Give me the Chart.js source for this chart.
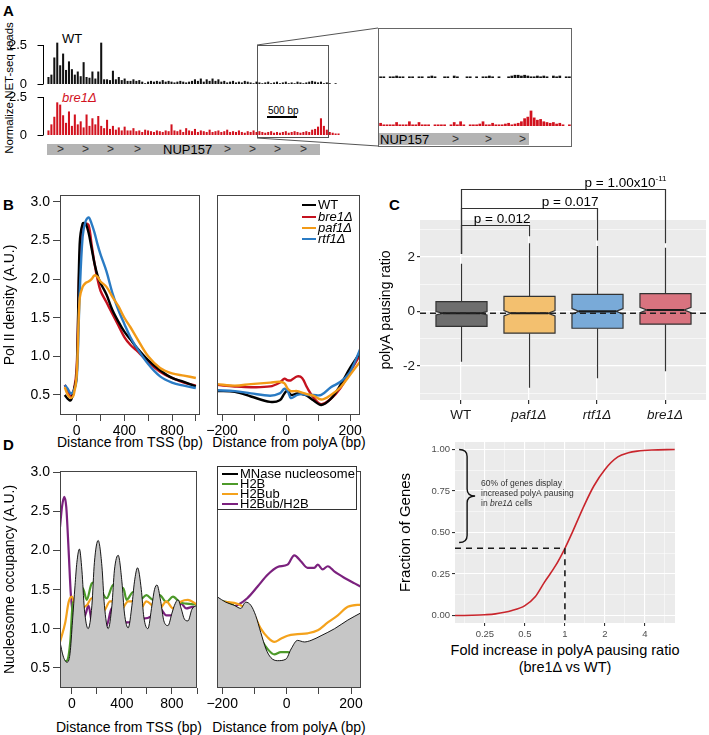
<!DOCTYPE html>
<html>
<head>
<meta charset="utf-8">
<script src="https://cdn.jsdelivr.net/npm/chart.js@4.4.0/dist/chart.umd.min.js"></script>
<style>
  body { margin: 0; background: #fff; font-family: "Liberation Sans", Arial, sans-serif; }
  #fig { position: relative; width: 709px; height: 735px; overflow: hidden; }
  canvas { position: absolute; }
  .t { position: absolute; white-space: nowrap; line-height: 1; color: #000; }
  .pl { font-weight: bold; font-size: 15px; }
  .rot { transform: translate(-50%, -50%) rotate(-90deg); }
  .ctr { transform: translate(-50%, -50%); }
  .gene { position: absolute; background: #b4b4b4; }
  .chev { position: absolute; font-size: 12px; color: #333; line-height: 1; }
  .leg { position: absolute; z-index: 5; font-size: 13px; line-height: 13px; white-space: nowrap; }
  .leg i.sw { display: inline-block; width: 14px; height: 2px; vertical-align: middle; margin-right: 2px; position: relative; top: -1px; }
  .em { font-style: italic; }
</style>
</head>
<body>
<div id="fig">
  <!-- panel letters -->
  <div class="t pl" style="left:3px;top:3px">A</div>
  <div class="t pl" style="left:3px;top:197px">B</div>
  <div class="t pl" style="left:389px;top:197px">C</div>
  <div class="t pl" style="left:3px;top:437px">D</div>

  <!-- panel A annotations -->
  <div class="t rot" style="left:10px;top:88px;font-size:11.5px">Normalize NET-seq reads</div>
  <div class="t" style="left:62px;top:32px;font-size:13px">WT</div>
  <div class="t em" style="left:62px;top:91px;font-size:13px;color:#d2121e">bre1Δ</div>
  <div class="t" style="left:268px;top:106px;font-size:10px">500 bp</div>
  <div style="position:absolute;left:267px;top:116px;width:30px;height:1.5px;background:#000"></div>

  <div class="gene" style="left:47px;top:144px;width:273px;height:11px"></div>
  <div class="chev" style="left:57px;top:143px">&gt;</div>
  <div class="chev" style="left:82px;top:143px">&gt;</div>
  <div class="chev" style="left:107px;top:143px">&gt;</div>
  <div class="chev" style="left:134px;top:143px">&gt;</div>
  <div class="t" style="left:163px;top:143px;font-size:13px">NUP157</div>
  <div class="chev" style="left:224px;top:143px">&gt;</div>
  <div class="chev" style="left:249px;top:143px">&gt;</div>
  <div class="chev" style="left:274px;top:143px">&gt;</div>
  <div class="chev" style="left:300px;top:143px">&gt;</div>

  <div style="position:absolute;left:257px;top:45px;width:72px;height:93px;border:1px solid #555;box-sizing:border-box"></div>
  <div style="position:absolute;left:378px;top:28px;width:194px;height:119px;border:1px solid #666;box-sizing:border-box"></div>
  <div class="gene" style="left:379px;top:133px;width:150px;height:12px"></div>
  <div class="t" style="left:380px;top:133px;font-size:13px">NUP157</div>
  <div class="chev" style="left:452px;top:133px">&gt;</div>
  <div class="chev" style="left:485px;top:133px">&gt;</div>
  <div class="chev" style="left:519px;top:133px">&gt;</div>
  <svg style="position:absolute;left:0;top:0" width="709" height="735">
    <line x1="257" y1="45" x2="378" y2="28" stroke="#555" stroke-width="1"/>
    <line x1="257" y1="138" x2="378" y2="146" stroke="#555" stroke-width="1"/>
  </svg>

  <!-- axis titles of the profile panels -->
  <div class="t ctr" style="left:130px;top:442px;font-size:14px">Distance from TSS (bp)</div>
  <div class="t ctr" style="left:289px;top:442px;font-size:14px">Distance from polyA (bp)</div>
  <div class="t ctr" style="left:129px;top:727px;font-size:14px">Distance from TSS (bp)</div>
  <div class="t ctr" style="left:289px;top:727px;font-size:14px">Distance from polyA (bp)</div>
  <div class="t ctr" style="left:565px;top:650px;font-size:14.5px">Fold increase in polyA pausing ratio</div>
  <div class="t ctr" style="left:565px;top:667px;font-size:14.5px">(bre1Δ vs WT)</div>

  <!-- panel B legend -->
  <div class="leg" style="left:302px;top:198px"><i class="sw" style="background:#000"></i>WT</div>
  <div class="leg em" style="left:302px;top:210px"><i class="sw" style="background:#c4121f"></i>bre1Δ</div>
  <div class="leg em" style="left:302px;top:221px"><i class="sw" style="background:#f29a17"></i>paf1Δ</div>
  <div class="leg em" style="left:302px;top:232px"><i class="sw" style="background:#2a7bc4"></i>rtf1Δ</div>

  <!-- panel D legend -->
  <div style="position:absolute;z-index:5;left:217px;top:466px;width:140px;height:44px;border:1px solid #333;box-sizing:border-box;background:#fff"></div>
  <div class="leg" style="left:222px;top:468px;line-height:11px"><i class="sw" style="background:#000;width:16px"></i>MNase nucleosome</div>
  <div class="leg" style="left:222px;top:478px;line-height:11px"><i class="sw" style="background:#4d9a2a;width:16px"></i>H2B</div>
  <div class="leg" style="left:222px;top:488px;line-height:11px"><i class="sw" style="background:#f4a21c;width:16px"></i>H2Bub</div>
  <div class="leg" style="left:222px;top:498px;line-height:11px"><i class="sw" style="background:#7b217e;width:16px"></i>H2Bub/H2B</div>
</div>

<script>
// ---------- panel A: binned NET-seq reads along NUP157 ----------
const trackTicks = [0, 2.5];
const wtReads = [0.45,0.6,1.7,2.65,1.2,1.95,0.9,1.45,0.95,0.6,
  0.8,0.5,1.4,0.45,0.4,0.8,0.35,0.8,2.65,0.3,
  0.3,0.25,0.85,0.3,0.45,0.25,0.35,0.2,0.2,0.3,
  0.2,0.25,0.15,0.05,0.15,0.2,0.15,0.2,0.15,0.25,
  0.15,0.2,0.15,0.1,0.15,0.2,0.15,0.1,0.15,0.2,
  0.3,0.2,0.35,0.15,0.3,0.2,0.35,0.2,0.3,0.15,
  0.2,0.1,0.15,0.2,0.1,0.15,0.1,0.2,0.15,0.1,
  0.05,0.15,0.1,0.05,0.1,0.15,0.05,0.1,0.15,0.05,
  0.1,0.15,0.05,0.1,0.05,0.15,0.1,0.05,0.1,0.15,
  0.2,0.15,0.1,0.15,0.05,0.1,0.05,0,0.05,0];
const bre1Reads = [0.3,0.7,1.2,2.15,2.0,1.3,0.8,1.55,0.6,1.35,
  0.7,0.9,0.5,1.35,0.6,1.1,0.7,1.25,0.6,0.45,
  1.0,0.4,0.6,0.35,0.5,0.3,0.55,0.3,0.3,0.45,
  0.25,0.3,0.2,0.35,0.3,0.25,0.2,0.3,0.25,0.2,
  0.3,0.25,0.7,0.3,0.25,0.35,0.2,0.45,0.3,0.25,
  0.4,0.2,0.3,0.25,0.2,0.35,0.2,0.25,0.3,0.2,
  0.25,0.35,0.2,0.25,0.2,0.3,0.2,0.15,0.25,0.2,
  0.3,0.2,0.25,0.2,0.15,0.2,0.25,0.15,0.2,0.15,
  0.2,0.25,0.15,0.2,0.25,0.2,0.15,0.2,0.25,0.2,
  0.35,0.4,0.55,1.1,0.6,0.35,0.2,0.15,0.1,0.1];
const wtZoomReads = [0.1,0.1,0,0.1,0.1,0.15,0.1,0.1,0,0.1,
  0.1,0,0.1,0.1,0,0.1,0.15,0.1,0,0,
  0.1,0.1,0,0.15,0.1,0,0,0.1,0.1,0,
  0.1,0,0.1,0.1,0.15,0.1,0,0.1,0,0,
  0.1,0.15,0.2,0.2,0.15,0.2,0.15,0.1,0.1,0.15,
  0.1,0.15,0.1,0,0.15,0.1,0.15,0,0.1,0.1];
const bre1ZoomReads = [0.2,0.1,0.1,0.1,0.1,0.25,0.1,0.1,0.1,0.3,
  0.1,0.1,0.25,0.1,0.1,0.1,0,0.1,0.1,0.1,
  0.1,0,0.1,0.25,0.1,0.3,0.1,0,0.1,0.1,
  0.1,0.15,0.3,0.1,0.1,0.2,0.1,0.1,0.1,0.15,
  0.2,0.1,0.15,0.2,0.3,0.5,0.6,1.0,0.55,0.4,
  0.45,0.3,0.25,0.2,0.25,0.15,0.2,0.1,0,0.1];

// ---------- panel B: Pol II density ----------
const tssPos  = [-100,-75,-50,-25,0,25,50,75,100,125,150,175,200,250,300,350,400,450,500,600,700,800,900,1000];
const tssWT   = [0.5,0.45,0.43,0.55,0.75,2.45,2.72,2.72,2.6,2.4,2.2,2.05,1.95,1.8,1.6,1.45,1.32,1.22,1.12,0.95,0.82,0.72,0.67,0.61];
const tssBre1 = [0.63,0.55,0.48,0.55,0.85,2.25,2.65,2.72,2.7,2.45,2.2,2.0,1.85,1.7,1.55,1.4,1.25,1.15,1.08,0.93,0.8,0.72,0.66,0.62];
const tssPaf1 = [0.6,0.5,0.46,0.5,0.75,1.75,1.9,1.95,1.97,2.0,2.05,2.03,1.97,1.9,1.77,1.65,1.5,1.38,1.25,1.0,0.85,0.78,0.75,0.72];
const tssRtf1 = [0.63,0.58,0.52,0.55,0.7,1.8,2.55,2.75,2.8,2.72,2.6,2.45,2.32,2.1,1.82,1.6,1.42,1.25,1.12,0.9,0.74,0.66,0.62,0.59];
const pasPos  = [-216,-160,-110,-50,-20,-5,5,15,35,50,65,85,110,140,170,200,240];
const pasWT   = [0.55,0.54,0.48,0.41,0.43,0.52,0.56,0.5,0.52,0.51,0.49,0.43,0.37,0.45,0.63,0.85,1.1];
const pasBre1 = [0.63,0.61,0.6,0.61,0.66,0.71,0.69,0.69,0.74,0.72,0.6,0.47,0.38,0.45,0.59,0.8,1.08];
const pasPaf1 = [0.64,0.62,0.64,0.66,0.67,0.65,0.58,0.55,0.55,0.53,0.51,0.49,0.44,0.5,0.6,0.76,0.98];
const pasRtf1 = [0.56,0.55,0.52,0.49,0.52,0.58,0.55,0.46,0.5,0.51,0.5,0.5,0.5,0.6,0.67,0.8,1.18];
const densTicks = [0.5,1.0,1.5,2.0,2.5,3.0];

// ---------- panel C: polyA pausing ratio ----------
const strains   = ['WT','paf1Δ','rtf1Δ','bre1Δ'];
const boxQ1     = [-0.55,-0.8,-0.62,-0.47];
const boxMed    = [-0.07,-0.07,0.0,0.05];
const boxQ3     = [0.36,0.55,0.62,0.65];
const whiskLo   = [-1.85,-2.8,-2.45,-2.2];
const whiskHi   = [1.75,2.5,2.4,2.33];
const notchHalf = [0.06,0.1,0.1,0.1];
const refLine   = -0.07;
const pairs     = [[0,1],[0,2],[0,3]];
const bracketY  = [3.15,3.78,4.47];
const legLow    = [[2.1,2.75],[2.1,2.6],[2.1,2.5]];
const pText     = ['p = 0.012','p = 0.017','p = 1.00x10'];
const pSup      = ['','','-11'];

// ---------- panel D: nucleosome occupancy ----------
const mnPos  = [-95,-70,-40,-15,5,25,40,60,80,100,130,160,180,210,240,260,290,320,340,370,400,420,450,480,500,525,555,575,607,640,660,680,710,735,768,800,820,848,875,900,928,960,1000];
const mnVal  = [0.83,0.65,0.57,0.68,1.1,1.55,1.85,2.02,1.75,1.25,1.0,1.3,1.85,2.13,1.8,1.3,1.0,1.3,1.75,1.94,1.6,1.2,1.01,1.3,1.6,1.78,1.5,1.15,1.0,1.3,1.5,1.56,1.35,1.1,1.04,1.2,1.3,1.37,1.25,1.12,1.1,1.25,1.3];
const h2bPos = [-95,-70,-40,-13,8,30,53,87,119,159,199,238,278,331,371,411,437,490,543,596,649,702,755,808,861,914,1000];
const h2bVal = [0.65,0.58,0.59,0.83,1.34,1.35,1.3,1.52,1.37,1.58,1.6,1.47,1.39,1.56,1.48,1.52,1.37,1.47,1.37,1.43,1.37,1.43,1.34,1.41,1.34,1.32,1.31];
const ubPos  = [-95,-53,-26,0,26,66,119,159,199,252,305,344,384,450,490,543,596,649,702,755,808,874,927,1000];
const ubVal  = [0.83,1.08,1.34,1.41,1.3,1.26,1.3,1.39,1.26,1.22,1.35,1.35,1.22,1.35,1.35,1.24,1.35,1.29,1.26,1.35,1.26,1.35,1.37,1.31];
const ratPos = [-95,-79,-61,-45,-26,-8,13,40,79,114,132,159,185,225,278,318,344,384,437,490,530,570,649,702,755,808,874,914,967,1000];
const ratVal = [2.3,2.56,2.69,2.56,2.0,1.43,1.17,1.13,1.08,1.21,1.3,1.08,0.96,1.04,1.04,1.26,1.17,1.04,1.08,1.08,1.24,1.13,1.17,1.26,1.17,1.17,1.32,1.26,1.28,1.26];
const mnPasPos  = [-216,-189,-163,-142,-127,-111,-96,-80,-64,-49,-28,-2,14,34,55,76,107,149,190,234];
const mnPasVal  = [1.41,1.34,1.3,1.26,1.34,1.3,1.17,0.95,0.74,0.63,0.59,0.61,0.74,0.85,0.83,0.85,0.91,1.0,1.11,1.21];
const h2bPasPos = [-216,-184,-153,-127,-101,-80,-59,-38,-18,3,24,55,86,128,169,211,234];
const h2bPasVal = [1.35,1.34,1.26,1.17,1.04,0.87,0.74,0.67,0.7,0.7,0.67,0.71,0.75,0.85,0.93,1.02,1.06];
const ubPasPos  = [-216,-184,-153,-127,-101,-80,-59,-38,-18,3,34,65,97,128,159,190,234];
const ubPasVal  = [1.35,1.34,1.32,1.26,1.17,1.0,0.89,0.83,0.87,0.91,0.93,0.94,0.98,1.08,1.17,1.28,1.31];
const ratPasPos = [-216,-184,-153,-122,-90,-59,-28,3,24,45,65,86,97,112,128,149,180,211,234];
const ratPasVal = [1.22,1.26,1.3,1.39,1.54,1.69,1.79,1.82,1.94,1.86,1.78,1.78,1.82,1.76,1.8,1.73,1.65,1.58,1.53];

// ---------- CDF panel ----------
const foldChange = [0.149,0.2,0.25,0.3,0.4,0.5,0.6,0.7,0.85,1,1.15,1.4,1.65,2,2.5,3,3.5,4.5,6.7];
const fracGenes  = [0,0.002,0.005,0.01,0.03,0.06,0.115,0.2,0.3,0.405,0.51,0.665,0.78,0.88,0.955,0.98,0.99,0.997,1.0];
const foldMajor  = [0.25,0.5,1,2,4];
const foldMinor  = [Math.SQRT1_2/4, Math.SQRT1_2/2, Math.SQRT1_2, Math.SQRT2, 2*Math.SQRT2, 4*Math.SQRT2];
const fracMajor  = [0,0.25,0.5,0.75,1];
const fracMinor  = [0.125,0.375,0.625,0.875];
const crossFold = 1, crossFrac = 0.405;
const braceFold = 0.16, braceTop = 1.0, braceBottom = 0.44;

Chart.defaults.font.family = '"Liberation Sans", Arial, sans-serif';
Chart.defaults.color = '#000';
Chart.defaults.animation = false;
Chart.defaults.events = [];
Chart.defaults.plugins.legend.display = false;
Chart.defaults.plugins.tooltip.enabled = false;

const fig = document.getElementById('fig');
function addCanvas(left, top, w, h) {
  const c = document.createElement('canvas');
  c.width = w; c.height = h;
  c.style.left = left + 'px'; c.style.top = top + 'px';
  fig.appendChild(c);
  return c.getContext('2d');
}
const pts = (xs, ys) => xs.map((x, i) => ({ x, y: ys[i] }));
const minus = v => (v < 0 ? '\u2212' + Math.abs(v) : String(v));

// R-style left axis only between 0 and 2.5
const rAxis = {
  id: 'rAxis',
  afterDraw(chart) {
    const y = chart.scales.y, a = chart.chartArea, c = chart.ctx;
    const x0 = a.left - 4 + 0.5;
    c.save();
    c.strokeStyle = '#000'; c.lineWidth = 1;
    c.beginPath();
    c.moveTo(x0, y.getPixelForValue(trackTicks[0]));
    c.lineTo(x0, y.getPixelForValue(trackTicks[1]));
    trackTicks.forEach(v => {
      const py = Math.round(y.getPixelForValue(v)) + 0.5;
      c.moveTo(x0 - 6, py); c.lineTo(x0, py);
    });
    c.stroke();
    c.restore();
  }
};

function track(ctx, vals, color, yMax, axis) {
  return new Chart(ctx, {
    type: 'bar',
    data: {
      labels: vals.map((v, i) => i),
      datasets: [{ data: vals, backgroundColor: color, borderWidth: 0, barPercentage: 1, categoryPercentage: axis ? 0.7 : 0.85 }]
    },
    options: {
      responsive: false,
      layout: { padding: axis ? { top: 20, bottom: 20 } : 0 },
      scales: {
        x: { display: false },
        y: {
          display: axis, min: 0, max: yMax,
          afterBuildTicks: s => { s.ticks = trackTicks.map(v => ({ value: v })); },
          afterFit: s => { if (axis) s.width = 47; },
          grid: { display: false }, border: { display: false },
          ticks: { padding: 12, font: { size: 13 }, color: '#000', callback: v => String(v) }
        }
      }
    },
    plugins: axis ? [rAxis] : []
  });
}

track(addCanvas(0, 20, 340, 84), wtReads, '#111', 2.82, true);
track(addCanvas(0, 72, 340, 83), bre1Reads, '#d2121e', 2.83, true);
track(addCanvas(379, 62, 192, 16), wtZoomReads, '#111', 1.03, false);
track(addCanvas(379, 100, 192, 26), bre1ZoomReads, '#d2121e', 1.69, false);

// ---------- base-R style profile panels ----------
const frame = {
  id: 'frame',
  afterDatasetsDraw(chart) {
    const a = chart.chartArea, c = chart.ctx;
    c.save(); c.strokeStyle = '#444'; c.lineWidth = 1;
    c.strokeRect(Math.round(a.left) + 0.5, Math.round(a.top) + 0.5, Math.round(a.right - a.left) - 1, Math.round(a.bottom - a.top) - 1);
    c.restore();
  }
};

function profile(ctx, o) {
  const showY = !!o.yTitle;
  return new Chart(ctx, {
    type: 'line',
    data: { datasets: o.sets },
    options: {
      responsive: false,
      layout: { padding: o.pad },
      elements: { point: { radius: 0 }, line: { borderWidth: 2.4, tension: 0.35 } },
      scales: {
        x: {
          type: 'linear', min: o.xMin, max: o.xMax,
          afterBuildTicks: s => { s.ticks = o.xTicks.map(v => ({ value: v })); },
          afterFit: s => { s.height = o.xH; },
          border: { display: false },
          grid: { drawOnChartArea: false, tickLength: 6, color: '#444' },
          ticks: { autoSkip: false, maxRotation: 0, padding: 2, font: { size: 14 }, color: '#000',
                   callback: v => (o.xLab.includes(v) ? minus(v) : '') }
        },
        y: {
          display: showY, min: o.yMin, max: o.yMax,
          afterBuildTicks: s => { s.ticks = densTicks.map(v => ({ value: v })); },
          afterFit: s => { if (showY) s.width = 60; },
          border: { display: false },
          grid: { drawOnChartArea: false, tickLength: 7, color: '#444' },
          ticks: { padding: 3, font: { size: 14 }, color: '#000', callback: v => v.toFixed(1) },
          title: { display: showY, text: o.yTitle, font: { size: 14 }, color: '#000', padding: { top: 2, bottom: 0 } }
        }
      }
    },
    plugins: [frame]
  });
}

const line = (label, xs, ys, color, extra) =>
  Object.assign({ label, data: pts(xs, ys), borderColor: color, backgroundColor: color, fill: false }, extra || {});

profile(addCanvas(0, 180, 205, 270), {
  pad: { top: 15, right: 5, left: 0, bottom: 0 }, xH: 35,
  xMin: -140, xMax: 1035, xTicks: [0,200,400,600,800,1000], xLab: [0,400,800],
  yMin: 0.24, yMax: 3.09, yTitle: 'Pol II density (A.U.)',
  sets: [
    line('paf1Δ', tssPos, tssPaf1, '#f29a17'),
    line('rtf1Δ', tssPos, tssRtf1, '#2a7bc4'),
    line('WT', tssPos, tssWT, '#000'),
    line('bre1Δ', tssPos, tssBre1, '#c4121f')
  ]
});
profile(addCanvas(192, 180, 180, 270), {
  pad: { top: 15, right: 12, left: 25, bottom: 0 }, xH: 35,
  xMin: -216, xMax: 231, xTicks: [-200,-100,0,100,200], xLab: [-200,0,200],
  yMin: 0.24, yMax: 3.09, yTitle: '',
  sets: [
    line('paf1Δ', pasPos, pasPaf1, '#f29a17'),
    line('rtf1Δ', pasPos, pasRtf1, '#2a7bc4'),
    line('WT', pasPos, pasWT, '#000'),
    line('bre1Δ', pasPos, pasBre1, '#c4121f')
  ]
});

const mono = { cubicInterpolationMode: 'monotone', borderWidth: 2.2 };
const mnStyle = { fill: 'start', backgroundColor: '#c6c6c6', borderWidth: 0.9, cubicInterpolationMode: 'monotone' };
profile(addCanvas(0, 456, 205, 270), {
  pad: { top: 15, right: 8, left: 0, bottom: 0 }, xH: 38,
  xMin: -95, xMax: 1000, xTicks: [0,200,400,600,800,1000], xLab: [0,400,800],
  yMin: 0.24, yMax: 3.02, yTitle: 'Nucleosome occupancy (A.U.)',
  sets: [
    line('MNase nucleosome', mnPos, mnVal, '#000', mnStyle),
    line('H2Bub', ubPos, ubVal, '#f4a21c', mono),
    line('H2B', h2bPos, h2bVal, '#4d9a2a', mono),
    line('H2Bub/H2B', ratPos, ratVal, '#7b217e', mono)
  ]
});
profile(addCanvas(192, 456, 180, 270), {
  pad: { top: 15, right: 11, left: 25, bottom: 0 }, xH: 38,
  xMin: -216, xMax: 231, xTicks: [-200,-100,0,100,200], xLab: [-200,0,200],
  yMin: 0.24, yMax: 3.02, yTitle: '',
  sets: [
    line('MNase nucleosome', mnPasPos, mnPasVal, '#000', mnStyle),
    line('H2Bub', ubPasPos, ubPasVal, '#f4a21c', mono),
    line('H2B', h2bPasPos, h2bPasVal, '#4d9a2a', mono),
    line('H2Bub/H2B', ratPasPos, ratPasVal, '#7b217e', mono)
  ]
});

// ---------- ggplot-style panels ----------
const panelBg = {
  id: 'panelBg',
  beforeDraw(chart) {
    const a = chart.chartArea, c = chart.ctx;
    c.save(); c.fillStyle = '#ebebeb';
    c.fillRect(a.left, a.top, a.right - a.left, a.bottom - a.top);
    c.restore();
  }
};

const boxColors = ['#6e6e6e', '#f3c06f', '#79aad8', '#d9737f'];
const boxPlot = {
  id: 'boxPlot',
  afterDatasetsDraw(chart) {
    const { ctx: c, scales: { x, y }, chartArea: a } = chart;
    c.save();
    strains.forEach((s, i) => {
      const cx = Math.round(x.getPixelForValue(i)) + 0.5;
      const hw = x.getPixelForValue(i + 0.375) - x.getPixelForValue(i);
      const q1 = y.getPixelForValue(boxQ1[i]), q3 = y.getPixelForValue(boxQ3[i]);
      const md = y.getPixelForValue(boxMed[i]);
      const nu = y.getPixelForValue(boxMed[i] + notchHalf[i]), nd = y.getPixelForValue(boxMed[i] - notchHalf[i]);
      const ni = hw * 0.27;
      c.strokeStyle = '#333'; c.lineWidth = 1.2;
      c.beginPath();
      c.moveTo(cx, q3); c.lineTo(cx, y.getPixelForValue(whiskHi[i]));
      c.moveTo(cx, q1); c.lineTo(cx, y.getPixelForValue(whiskLo[i]));
      c.stroke();
      c.beginPath();
      c.moveTo(cx - hw, q3); c.lineTo(cx + hw, q3); c.lineTo(cx + hw, nu); c.lineTo(cx + hw - ni, md);
      c.lineTo(cx + hw, nd); c.lineTo(cx + hw, q1); c.lineTo(cx - hw, q1); c.lineTo(cx - hw, nd);
      c.lineTo(cx - hw + ni, md); c.lineTo(cx - hw, nu); c.closePath();
      c.fillStyle = boxColors[i]; c.fill(); c.stroke();
      c.lineWidth = 2.2; c.strokeStyle = '#1a1a1a';
      c.beginPath(); c.moveTo(cx - hw + ni, md); c.lineTo(cx + hw - ni, md); c.stroke();
    });
    // reference line at WT median
    const yr = y.getPixelForValue(refLine);
    c.setLineDash([6, 4]); c.lineWidth = 1.6; c.strokeStyle = '#222';
    c.beginPath(); c.moveTo(a.left, yr); c.lineTo(a.right + 3, yr); c.stroke();
    c.setLineDash([]);
    // significance brackets
    c.strokeStyle = '#333'; c.lineWidth = 1.2; c.fillStyle = '#000';
    pairs.forEach(([i, j], k) => {
      const x1 = Math.round(x.getPixelForValue(i)) + 0.5, x2 = Math.round(x.getPixelForValue(j)) + 0.5;
      const yb = Math.round(y.getPixelForValue(bracketY[k])) + 0.5;
      c.beginPath();
      c.moveTo(x1, y.getPixelForValue(legLow[k][0])); c.lineTo(x1, yb); c.lineTo(x2, yb);
      c.lineTo(x2, y.getPixelForValue(legLow[k][1])); c.stroke();
      c.textAlign = 'right'; c.textBaseline = 'alphabetic';
      let xr = x2 + 1;
      if (pSup[k]) {
        c.font = '8px "Liberation Sans"';
        c.fillText(pSup[k], xr, yb - 9);
        xr -= c.measureText(pSup[k]).width;
      }
      c.font = '13.5px "Liberation Sans"';
      c.fillText(pText[k], xr, yb - 3);
    });
    c.restore();
  }
};

new Chart(addCanvas(376, 160, 333, 275), {
  type: 'scatter',
  data: { datasets: [{ data: strains.map((s, i) => ({ x: i, y: boxMed[i] })), pointRadius: 0 }] },
  options: {
    responsive: false,
    layout: { padding: { top: 60, right: 3, left: 0, bottom: 0 } },
    scales: {
      x: {
        type: 'linear', min: -0.6, max: 3.6,
        afterBuildTicks: s => { s.ticks = strains.map((n, i) => ({ value: i })); },
        afterFit: s => { s.height = 35; },
        border: { display: false },
        grid: { color: '#fff', lineWidth: 1.2, tickColor: '#333', tickLength: 4 },
        ticks: { autoSkip: false, maxRotation: 0, padding: 3, color: '#1a1a1a',
                 font: c => ({ size: 13.5, style: c.index > 0 ? 'italic' : 'normal' }),
                 callback: v => strains[v] }
      },
      y: {
        min: -3.25, max: 3.35,
        afterBuildTicks: s => { s.ticks = [-3,-2,-1,0,1,2,3].map(v => ({ value: v })); },
        afterFit: s => { s.width = 44; },
        border: { display: false },
        grid: {
          color: '#fff', tickLength: 3,
          lineWidth: c => (c.tick && c.tick.value % 2 === 0 ? 1.2 : 0.6),
          tickColor: c => (c.tick && c.tick.value % 2 === 0 ? '#333' : 'rgba(0,0,0,0)')
        },
        ticks: { padding: 2, font: { size: 13.5 }, color: '#1a1a1a', callback: v => (v % 2 === 0 ? String(v) : '') },
        title: { display: true, text: 'polyA pausing ratio', font: { size: 14 }, color: '#000', padding: { top: 2, bottom: 0 } }
      }
    }
  },
  plugins: [panelBg, boxPlot]
});

const cdfNotes = {
  id: 'cdfNotes',
  afterDatasetsDraw(chart) {
    const { ctx: c, scales: { x, y }, chartArea: a } = chart;
    const px = x.getPixelForValue(crossFold), py = y.getPixelForValue(crossFrac);
    c.save();
    c.strokeStyle = '#1a1a1a'; c.lineWidth = 1.6; c.setLineDash([6, 5]);
    c.beginPath(); c.moveTo(a.left, py); c.lineTo(px, py); c.stroke();
    c.beginPath(); c.moveTo(px, py); c.lineTo(px, a.bottom); c.stroke();
    c.setLineDash([]);
    const xl = x.getPixelForValue(braceFold), yt = y.getPixelForValue(braceTop), yb = y.getPixelForValue(braceBottom);
    const ym = (yt + yb) / 2, w = 16, xm = xl + w / 2, xr = xl + w, r = 7;
    c.lineWidth = 1.4; c.strokeStyle = '#111';
    c.beginPath();
    c.moveTo(xl, yt); c.quadraticCurveTo(xm, yt, xm, yt + r); c.lineTo(xm, ym - r);
    c.quadraticCurveTo(xm, ym, xr, ym); c.quadraticCurveTo(xm, ym, xm, ym + r);
    c.lineTo(xm, yb - r); c.quadraticCurveTo(xm, yb, xl, yb);
    c.stroke();
    c.fillStyle = '#333'; c.textAlign = 'left'; c.textBaseline = 'middle';
    const tx = xr + 6;
    c.font = '8.5px "Liberation Sans"';
    c.fillText('60% of genes display', tx, ym - 12);
    c.fillText('increased polyA pausing', tx, ym - 2);
    let cx = tx;
    c.fillText('in ', cx, ym + 8); cx += c.measureText('in ').width;
    c.font = 'italic 8.5px "Liberation Sans"';
    c.fillText('bre1Δ', cx, ym + 8); cx += c.measureText('bre1Δ').width;
    c.font = '8.5px "Liberation Sans"';
    c.fillText(' cells', cx, ym + 8);
    c.restore();
  }
};

new Chart(addCanvas(395, 430, 285, 215), {
  type: 'line',
  data: { datasets: [{ data: pts(foldChange, fracGenes), borderColor: '#c9252c', borderWidth: 1.6, pointRadius: 0, cubicInterpolationMode: 'monotone', fill: false }] },
  options: {
    responsive: false,
    layout: { padding: { top: 12, right: 5, left: 0, bottom: 0 } },
    scales: {
      x: {
        type: 'logarithmic', min: 0.149, max: 6.73,
        afterBuildTicks: s => { s.ticks = foldMajor.concat(foldMinor).sort((p, q) => p - q).map(v => ({ value: v })); },
        afterFit: s => { s.height = 22; },
        border: { display: false },
        grid: {
          color: '#fff', tickLength: 3,
          lineWidth: c => (c.tick && foldMajor.includes(c.tick.value) ? 1.1 : 0.5),
          tickColor: c => (c.tick && foldMajor.includes(c.tick.value) ? '#333' : 'rgba(0,0,0,0)')
        },
        ticks: { autoSkip: false, maxRotation: 0, padding: 3, font: { size: 9.5 }, color: '#4d4d4d',
                 callback: v => (foldMajor.includes(v) ? String(v) : '') }
      },
      y: {
        min: -0.045, max: 1.045,
        afterBuildTicks: s => { s.ticks = fracMajor.concat(fracMinor).sort((p, q) => p - q).map(v => ({ value: v })); },
        afterFit: s => { s.width = 60; },
        border: { display: false },
        grid: {
          color: '#fff', tickLength: 3,
          lineWidth: c => (c.tick && fracMajor.includes(c.tick.value) ? 1.1 : 0.5),
          tickColor: c => (c.tick && fracMajor.includes(c.tick.value) ? '#333' : 'rgba(0,0,0,0)')
        },
        ticks: { padding: 2, font: { size: 9.5 }, color: '#4d4d4d', callback: v => (fracMajor.includes(v) ? v.toFixed(2) : '') },
        title: { display: true, text: 'Fraction of Genes', font: { size: 15 }, color: '#000', padding: { top: 2, bottom: 0 } }
      }
    }
  },
  plugins: [panelBg, cdfNotes]
});
</script>
</body>
</html>
